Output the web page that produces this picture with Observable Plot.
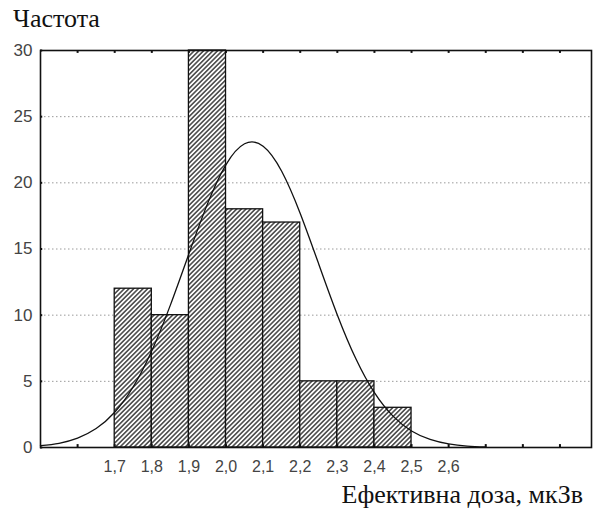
<!DOCTYPE html>
<html>
<head>
<meta charset="utf-8">
<script src="https://cdn.jsdelivr.net/npm/d3@7"></script>
<script src="https://cdn.jsdelivr.net/npm/@observablehq/plot@0.6"></script>
<style>
  body { margin: 0; background: #fff; }
  svg { display: block; background: #fff; }
</style>
</head>
<body>
<div id="chart"></div>
<script>
// Histogram bins (effective dose, µSv) and frequencies
const binStart = [1.7, 1.8, 1.9, 2.0, 2.1, 2.2, 2.3, 2.4];
const binEnd   = [1.8, 1.9, 2.0, 2.1, 2.2, 2.3, 2.4, 2.5];
const counts   = [12, 10, 30, 18, 17, 5, 5, 3];

// Fitted normal curve
const curveX = [1.50, 1.55, 1.60, 1.65, 1.70, 1.75, 1.80, 1.85, 1.90, 1.95, 2.00, 2.05, 2.10, 2.15, 2.20, 2.25, 2.30, 2.35, 2.40, 2.45, 2.50, 2.55, 2.60, 2.65, 2.70];
const curveY = [0.14, 0.32, 0.71, 1.43, 2.66, 4.59, 7.31, 10.76, 14.64, 18.41, 21.38, 22.95, 22.77, 20.88, 17.69, 13.85, 10.02, 6.70, 4.14, 2.37, 1.25, 0.61, 0.27, 0.11, 0.04];

// Tick labels
const xTicks = [1.7, 1.8, 1.9, 2.0, 2.1, 2.2, 2.3, 2.4, 2.5, 2.6];
const xMinor = [1.6, 1.7, 1.8, 1.9, 2.0, 2.1, 2.2, 2.3, 2.4, 2.5, 2.6, 2.7, 2.8, 2.9];
const yTicks = [0, 5, 10, 15, 20, 25, 30];
const yGrid  = [5, 10, 15, 20, 25];

const yTitle = "Частота";
const xTitle = "Ефективна доза, мкЗв";

const bars = binStart.map((s, i) => ({x1: s, x2: binEnd[i], y: counts[i]}));
const curve = curveX.map((x, i) => ({x, y: curveY[i]}));
const fmt = d => d.toFixed(1).replace(".", ",");

const X0 = 1.5;
const labelFont = "Arial, 'Liberation Sans', sans-serif";

const svg = Plot.plot({
  width: 593,
  height: 509,
  marginLeft: 40,
  marginRight: 2,
  marginTop: 50,
  marginBottom: 62,
  x: {domain: [X0, 2.985], axis: null},
  y: {domain: [0, 30], axis: null},
  marks: [
    Plot.ruleY(yGrid, {stroke: "#9a9a9a", strokeWidth: 1, strokeDasharray: "1.5,2.5"}),
    Plot.rect(bars, {x1: "x1", x2: "x2", y1: 0, y2: "y", fill: "url(#hatch)", stroke: "#111", strokeWidth: 1.3}),
    Plot.line(curve, {x: "x", y: "y", stroke: "#111", strokeWidth: 1.3, curve: "natural"}),
    Plot.ruleX(xMinor, {y1: 0, y2: 0.22, stroke: "#111", strokeWidth: 2}),
    Plot.ruleX(xMinor, {y1: 29.78, y2: 30, stroke: "#111", strokeWidth: 2}),
    Plot.ruleY(yTicks, {x1: X0, x2: X0 + 0.006, stroke: "#111", strokeWidth: 2}),
    Plot.frame({stroke: "#111", strokeWidth: 1.6}),
    Plot.text(xTicks, {x: d => d, y: 0, dy: 19, text: fmt, fontSize: 16, fill: "#444", fontFamily: labelFont}),
    Plot.text(yTicks, {x: X0, y: d => d, dx: -8, text: d => String(d), textAnchor: "end", fontSize: 17, fill: "#444", fontFamily: labelFont})
  ]
});

// hatch pattern definition
const defs = d3.select(svg).insert("defs", ":first-child");
const pat = defs.append("pattern")
  .attr("id", "hatch")
  .attr("patternUnits", "userSpaceOnUse")
  .attr("width", 3.3)
  .attr("height", 3.3)
  .attr("patternTransform", "rotate(45)");
pat.append("rect").attr("width", 3.3).attr("height", 3.3).attr("fill", "#fff");
pat.append("line")
  .attr("x1", 1.65).attr("y1", 0).attr("x2", 1.65).attr("y2", 3.3)
  .attr("stroke", "#222").attr("stroke-width", 1.3);

// axis titles
const sel = d3.select(svg);
sel.append("text")
  .attr("x", 13).attr("y", 27)
  .attr("text-anchor", "start")
  .attr("font-family", "'Liberation Serif', 'Times New Roman', serif")
  .attr("font-size", 26)
  .attr("fill", "#111")
  .text(yTitle);
sel.append("text")
  .attr("x", 583).attr("y", 503)
  .attr("text-anchor", "end")
  .attr("font-family", "'Liberation Serif', 'Times New Roman', serif")
  .attr("font-size", 26)
  .attr("fill", "#111")
  .text(xTitle);

document.getElementById("chart").appendChild(svg);
</script>
</body>
</html>
